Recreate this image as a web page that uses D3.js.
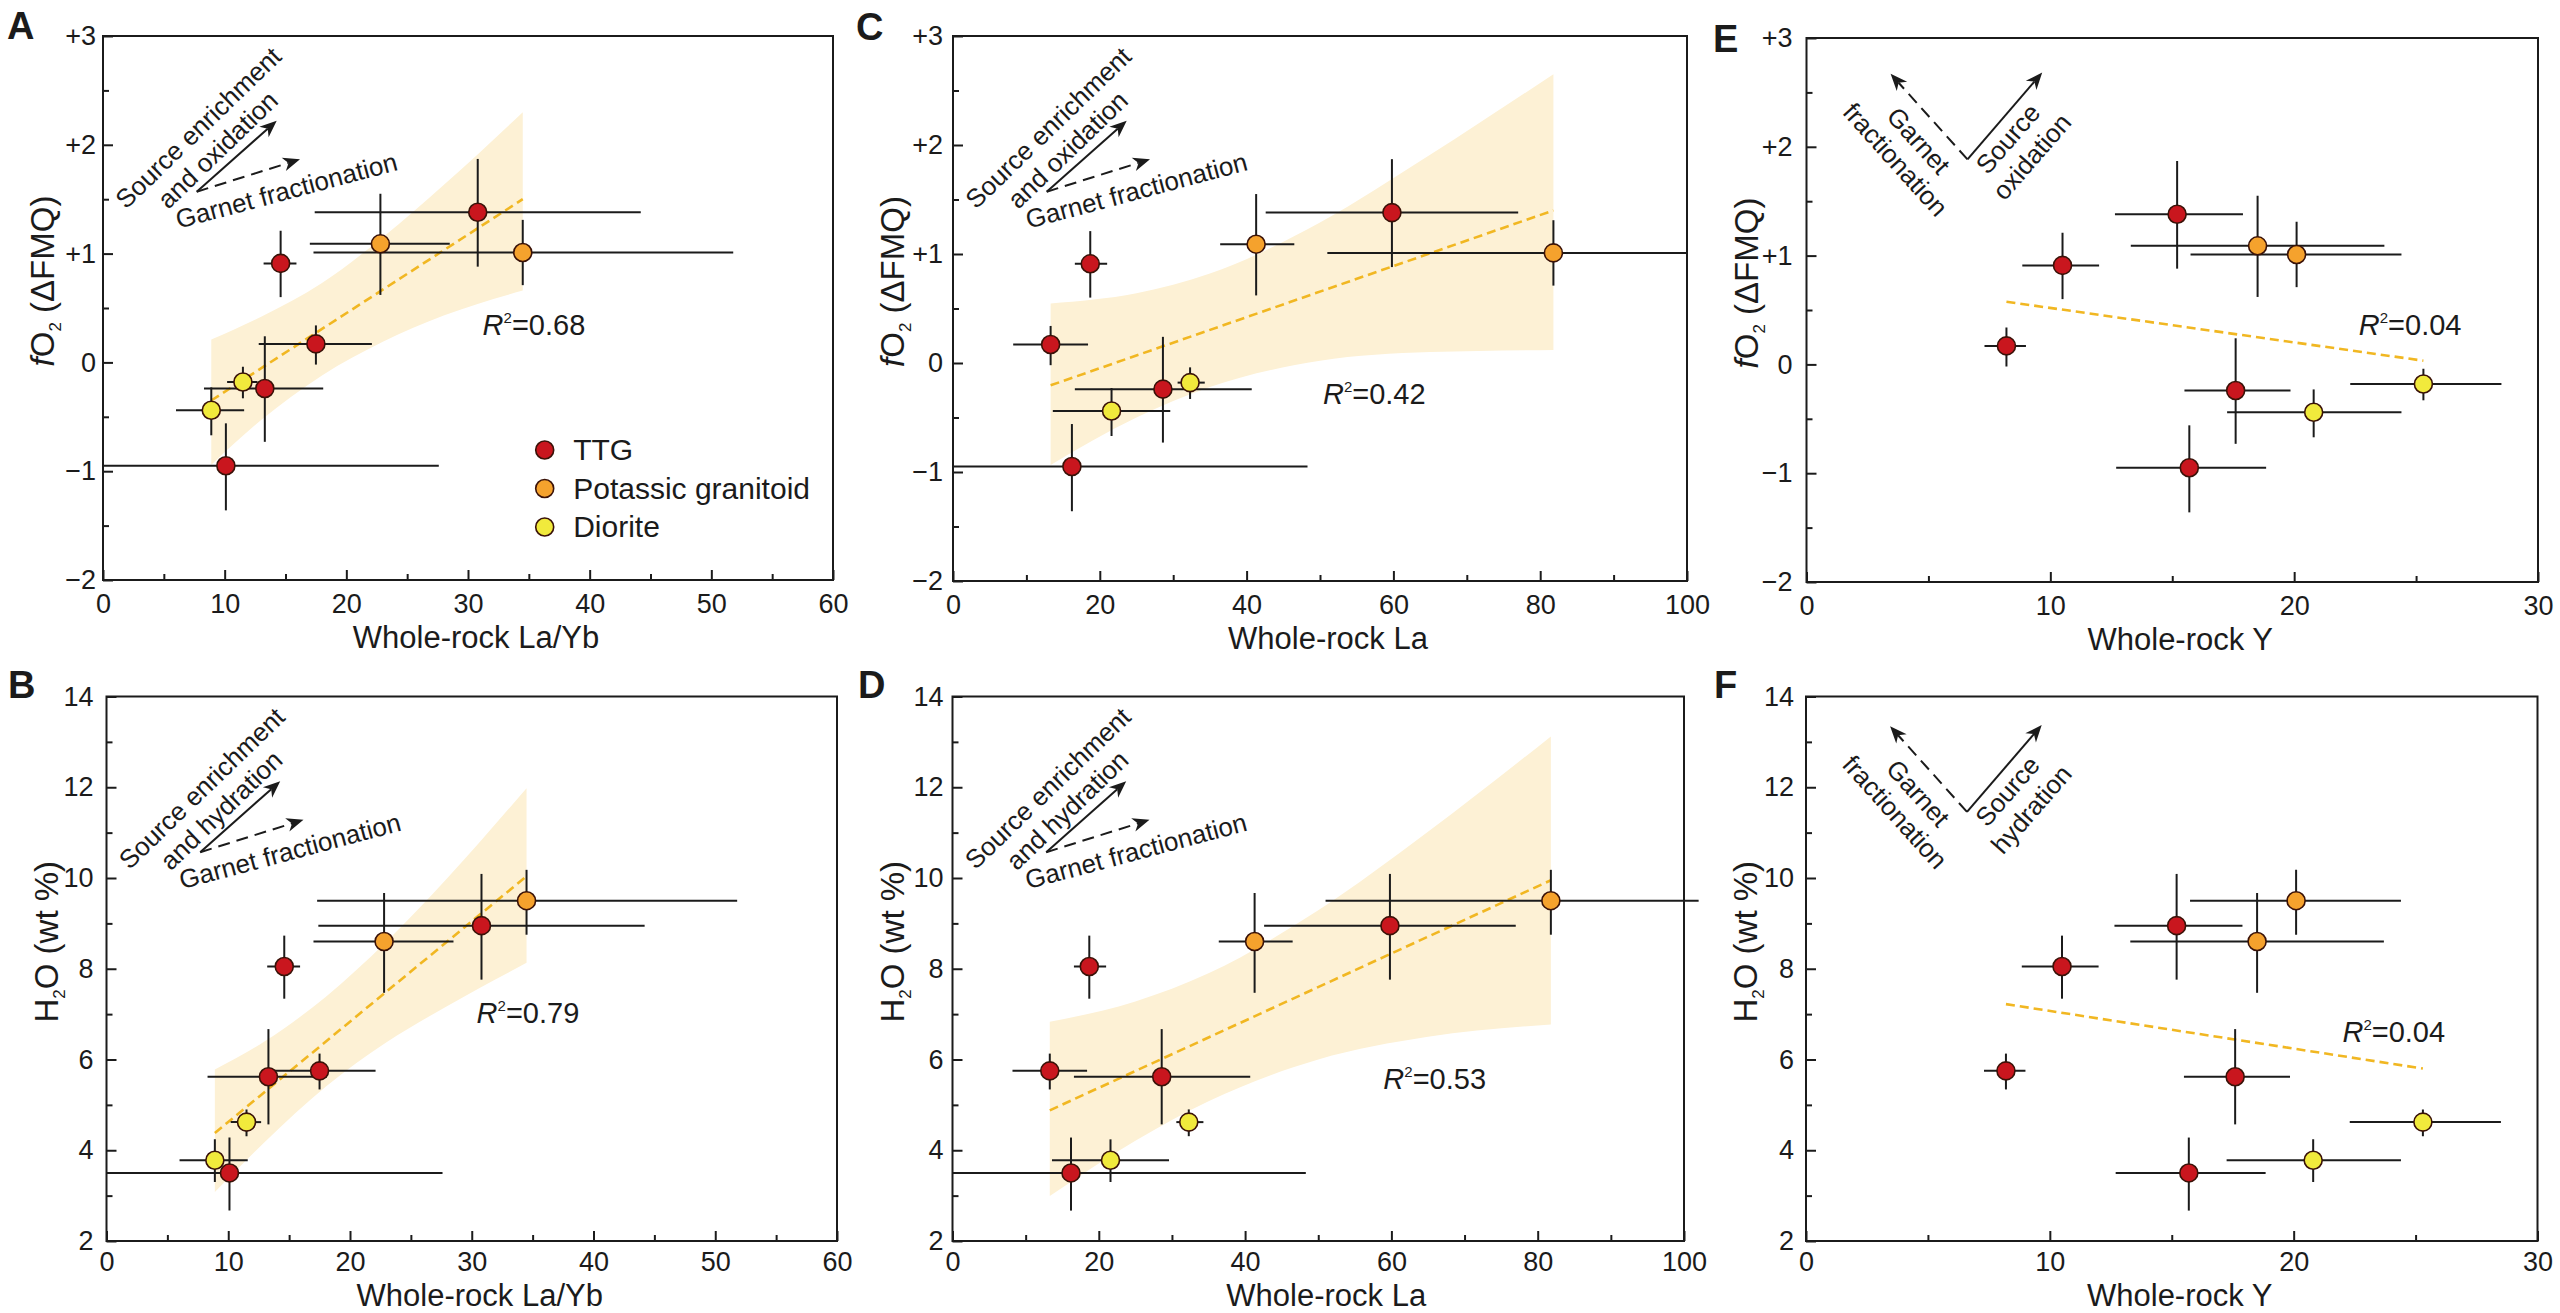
<!DOCTYPE html>
<html>
<head>
<meta charset="utf-8">
<script src="https://cdn.jsdelivr.net/npm/d3@7"></script>
<style>
  body { margin: 0; background: #fff; }
  text { font-family: "Liberation Sans", Arial, Helvetica, sans-serif; fill: #1b1b1b; }
  .tick text { font-size: 27px; }
</style>
</head>
<body>
<svg id="chart" width="2560" height="1313"></svg>
<script>
/* Samples, one entry per pluton (same order in every array) */
var rockType = ["TTG", "Potassic granitoid", "Potassic granitoid", "TTG", "TTG", "Diorite", "TTG", "Diorite", "TTG"];

var laYb   = [30.8, 22.8, 34.5, 14.6, 17.5, 11.5, 13.3, 8.9, 10.1];
var laYbLo = [17.4, 17.0, 17.3, 13.2, 12.8, 10.2, 8.3, 6.0, 0];
var laYbHi = [44.2, 28.5, 51.8, 15.9, 22.1, 12.7, 18.1, 11.6, 27.6];

var la   = [59.8, 41.3, 81.8, 18.7, 13.3, 32.3, 28.6, 21.6, 16.2];
var laLo = [42.6, 36.4, 51.0, 16.6, 8.2, 30.6, 16.6, 13.6, 0];
var laHi = [77.0, 46.5, 102, 21.0, 18.4, 34.3, 40.7, 29.6, 48.3];

var yy   = [15.2, 18.5, 20.1, 10.5, 8.2, 25.3, 17.6, 20.8, 15.7];
var yyLo = [12.65, 13.3, 15.75, 8.85, 7.3, 22.3, 15.5, 17.25, 12.7];
var yyHi = [17.9, 23.7, 24.4, 12.0, 9.0, 28.5, 19.85, 24.4, 18.85];

var fo2   = [1.38, 1.09, 1.01, 0.91, 0.17, -0.18, -0.24, -0.44, -0.95];
var fo2Lo = [0.88, 0.62, 0.71, 0.60, -0.02, -0.33, -0.73, -0.67, -1.36];
var fo2Hi = [1.87, 1.55, 1.31, 1.21, 0.34, -0.04, 0.24, -0.23, -0.56];

var h2o   = [8.95, 8.6, 9.5, 8.05, 5.75, 4.62, 5.62, 3.78, 3.5];
var h2oLo = [7.76, 7.47, 8.75, 7.34, 5.34, 4.31, 4.57, 3.30, 2.67];
var h2oHi = [10.09, 9.67, 10.18, 8.73, 6.13, 4.90, 6.67, 4.24, 4.28];

var categories = ["TTG", "Potassic granitoid", "Diorite"];

/* Regression lines [x, y] and confidence bands [x, lower, upper] */
var trendA = [[8.9, -0.35], [34.5, 1.50]];
var bandA  = [[8.9, -0.94, 0.21], [13, -0.53, 0.42], [18, -0.12, 0.73], [23, 0.19, 1.15], [28, 0.43, 1.63], [34.5, 0.66, 2.30]];
var trendB = [[8.9, 4.38], [34.5, 10.04]];
var bandB  = [[8.9, 3.08, 5.78], [13, 4.18, 6.40], [18, 5.40, 7.38], [23, 6.38, 8.60], [28, 7.18, 10.0], [34.5, 8.13, 11.98]];
var trendC = [[13.3, -0.205], [81.8, 1.40]];
var bandC  = [[13.3, -0.935, 0.547], [25, -0.50, 0.64], [35, -0.22, 0.82], [50, 0.02, 1.29], [65, 0.10, 1.91], [81.8, 0.12, 2.65]];
var trendD = [[13.3, 4.88], [81.8, 9.95]];
var bandD  = [[13.3, 2.99, 6.83], [25, 4.21, 7.28], [35, 5.08, 7.90], [50, 6.0, 9.29], [65, 6.5, 11.02], [81.8, 6.77, 13.12]];
var trendE = [[8.2, 0.576], [25.3, 0.034]];
var trendF = [[8.2, 7.22], [25.3, 5.80]];

var r2Values = ["0.68", "0.79", "0.42", "0.53", "0.04", "0.04"];

/* Axis ticks */
var xMajorLaYb = [0, 10, 20, 30, 40, 50, 60], xMinorLaYb = [5, 15, 25, 35, 45, 55];
var xMajorLa = [0, 20, 40, 60, 80, 100], xMinorLa = [10, 30, 50, 70, 90];
var xMajorY = [0, 10, 20, 30], xMinorY = [5, 15, 25];
var yMajorFo2 = [-2, -1, 0, 1, 2, 3], yMinorFo2 = [-1.5, -0.5, 0.5, 1.5, 2.5];
var yMajorH2o = [2, 4, 6, 8, 10, 12, 14], yMinorH2o = [3, 5, 7, 9, 11, 13];

var COLORS = {"TTG": "#c9161e", "Potassic granitoid": "#f5a22d", "Diorite": "#f1ea3c"};
var BAND_COLOR = "#fdf1d5";
var TREND_COLOR = "#f1b722";
var INK = "#1b1b1b";

var X_VARS = {
    laYb: {v: laYb, lo: laYbLo, hi: laYbHi, domain: [0, 60], major: xMajorLaYb, minor: xMinorLaYb, title: "Whole-rock La/Yb"},
    la:   {v: la, lo: laLo, hi: laHi, domain: [0, 100], major: xMajorLa, minor: xMinorLa, title: "Whole-rock La"},
    y:    {v: yy, lo: yyLo, hi: yyHi, domain: [0, 30], major: xMajorY, minor: xMinorY, title: "Whole-rock Y"}
};
var Y_VARS = {
    fo2: {v: fo2, lo: fo2Lo, hi: fo2Hi, domain: [-2, 3], major: yMajorFo2, minor: yMinorFo2,
          fmt: function(d) { return d > 0 ? "+" + d : (d < 0 ? "\u2212" + (-d) : "0"); },
          title: [{t: "f", italic: true}, {t: "O"}, {t: "2", sub: true}, {t: " (\u0394FMQ)"}]},
    h2o: {v: h2o, lo: h2oLo, hi: h2oHi, domain: [2, 14], major: yMajorH2o, minor: yMinorH2o,
          fmt: function(d) { return String(d); },
          title: [{t: "H"}, {t: "2", sub: true}, {t: "O (wt %)"}]}
};

var panels = [
    {id: "A", left: 103, right: 833, top: 36, bottom: 580, xVar: "laYb", yVar: "fo2", trend: trendA, band: bandA,
     r2: 0, r2At: [31.2, 0.25], letter: [7, 39], pad: 7, clip: true, note: "oxidation", legend: true},
    {id: "B", left: 106.5, right: 837, top: 696.5, bottom: 1241, xVar: "laYb", yVar: "h2o", trend: trendB, band: bandB,
     r2: 1, r2At: [30.4, 6.81], letter: [8, 698], pad: 13, clip: true, note: "hydration"},
    {id: "C", left: 953, right: 1687, top: 36, bottom: 581, xVar: "la", yVar: "fo2", trend: trendC, band: bandC,
     r2: 2, r2At: [50.4, -0.38], letter: [856, 40], pad: 10, clip: true, note: "oxidation"},
    {id: "D", left: 952.5, right: 1684, top: 696.5, bottom: 1241, xVar: "la", yVar: "h2o", trend: trendD, band: bandD,
     r2: 3, r2At: [58.9, 5.36], letter: [858, 698], pad: 9, clip: false, note: "hydration"},
    {id: "E", left: 1806.5, right: 2538, top: 38, bottom: 582, xVar: "y", yVar: "fo2", trend: trendE,
     r2: 4, r2At: [22.65, 0.27], letter: [1713, 52], pad: 14, clip: true, vnote: "oxidation", vdy: 0},
    {id: "F", left: 1806, right: 2537.5, top: 696.5, bottom: 1241, xVar: "y", yVar: "h2o", trend: trendF,
     r2: 5, r2At: [22.0, 6.39], letter: [1714, 698], pad: 12, clip: true, vnote: "hydration", vdy: -6}
];

var svg = d3.select("#chart");
var defs = svg.append("defs");

panels.forEach(fig_drawPanel);

function fig_drawPanel(p) {
    var xv = X_VARS[p.xVar], yv = Y_VARS[p.yVar];
    var x = d3.scaleLinear().domain(xv.domain).range([p.left, p.right]);
    var y = d3.scaleLinear().domain(yv.domain).range([p.bottom, p.top]);
    var g = svg.append("g").attr("class", "panel panel-" + p.id);

    defs.append("clipPath").attr("id", "clip-" + p.id)
        .append("rect")
        .attr("x", p.left).attr("y", p.top)
        .attr("width", p.right - p.left).attr("height", p.bottom - p.top);

    var plot = g.append("g");
    if (p.clip) plot.attr("clip-path", "url(#clip-" + p.id + ")");

    // confidence band + regression line
    if (p.band) {
        plot.append("path")
            .datum(p.band)
            .attr("d", d3.area()
                .x(function(d) { return x(d[0]); })
                .y0(function(d) { return y(d[1]); })
                .y1(function(d) { return y(d[2]); })
                .curve(d3.curveMonotoneX))
            .attr("fill", BAND_COLOR);
    }
    plot.append("path")
        .datum(p.trend)
        .attr("d", d3.line()
            .x(function(d) { return x(d[0]); })
            .y(function(d) { return y(d[1]); }))
        .attr("fill", "none")
        .attr("stroke", TREND_COLOR)
        .attr("stroke-width", 2.6)
        .attr("stroke-dasharray", "9,5");

    var idx = d3.range(rockType.length);

    // error bars
    plot.selectAll(".xerr").data(idx).join("line")
        .attr("class", "xerr")
        .attr("x1", function(i) { return x(xv.lo[i]); })
        .attr("x2", function(i) { return x(xv.hi[i]); })
        .attr("y1", function(i) { return y(yv.v[i]); })
        .attr("y2", function(i) { return y(yv.v[i]); })
        .attr("stroke", INK).attr("stroke-width", 2);
    plot.selectAll(".yerr").data(idx).join("line")
        .attr("class", "yerr")
        .attr("x1", function(i) { return x(xv.v[i]); })
        .attr("x2", function(i) { return x(xv.v[i]); })
        .attr("y1", function(i) { return y(yv.lo[i]); })
        .attr("y2", function(i) { return y(yv.hi[i]); })
        .attr("stroke", INK).attr("stroke-width", 2);

    // samples
    plot.selectAll(".pt").data(idx).join("circle")
        .attr("class", "pt")
        .attr("cx", function(i) { return x(xv.v[i]); })
        .attr("cy", function(i) { return y(yv.v[i]); })
        .attr("r", 9)
        .attr("fill", function(i) { return COLORS[rockType[i]]; })
        .attr("stroke", "#3a1208")
        .attr("stroke-width", 1.6);

    fig_drawAxes(g, p, x, y, xv, yv);

    // R^2
    var r2 = g.append("text")
        .attr("x", x(p.r2At[0]))
        .attr("y", y(p.r2At[1]))
        .attr("font-size", 29);
    r2.append("tspan").attr("font-style", "italic").text("R");
    r2.append("tspan").attr("font-size", 15).attr("dy", -12).text("2");
    r2.append("tspan").attr("dy", 12).text("=" + r2Values[p.r2]);

    // panel letter
    g.append("text")
        .attr("x", p.letter[0]).attr("y", p.letter[1])
        .attr("font-size", 38).attr("font-weight", "bold")
        .text(p.id);

    if (p.note) fig_noteSlanted(g, p);
    if (p.vnote) fig_noteV(g, p);
    if (p.legend) fig_legend(g, p);
}

function fig_drawAxes(g, p, x, y, xv, yv) {
    var rowTop = p.top < 300;
    var xa = g.append("g")
        .attr("transform", "translate(0," + p.bottom + ")")
        .style("color", INK)
        .call(d3.axisBottom(x).tickValues(xv.major).tickSize(-10).tickPadding(rowTop ? 14 : 11).tickFormat(d3.format("d")));
    var xm = g.append("g")
        .attr("transform", "translate(0," + p.bottom + ")")
        .style("color", INK)
        .call(d3.axisBottom(x).tickValues(xv.minor).tickSize(-6).tickFormat(function() { return ""; }));
    var ya = g.append("g")
        .attr("transform", "translate(" + p.left + ",0)")
        .style("color", INK)
        .call(d3.axisLeft(y).tickValues(yv.major).tickSize(-10).tickPadding(p.pad).tickFormat(yv.fmt));
    var ym = g.append("g")
        .attr("transform", "translate(" + p.left + ",0)")
        .style("color", INK)
        .call(d3.axisLeft(y).tickValues(yv.minor).tickSize(-6).tickFormat(function() { return ""; }));
    [xa, xm, ya, ym].forEach(function(a) {
        a.select(".domain").remove();
        a.selectAll(".tick line").attr("stroke-width", 2);
    });

    // frame
    g.append("rect")
        .attr("x", p.left).attr("y", p.top)
        .attr("width", p.right - p.left).attr("height", p.bottom - p.top)
        .attr("fill", "none").attr("stroke", INK).attr("stroke-width", 2);

    // titles
    g.append("text")
        .attr("x", (p.left + p.right) / 2 + 8)
        .attr("y", p.bottom + (rowTop ? 68 : 64.5))
        .attr("text-anchor", "middle")
        .attr("font-size", 31)
        .text(xv.title);

    var yt = g.append("text")
        .attr("transform", "translate(" + (p.left - 49) + "," + ((p.top + p.bottom) / 2 - 27) + ") rotate(-90)")
        .attr("text-anchor", "middle")
        .attr("font-size", 33);
    var shift = 0;
    yv.title.forEach(function(part) {
        var ts = yt.append("tspan").text(part.t);
        if (part.italic) ts.attr("font-style", "italic");
        if (part.sub) {
            ts.attr("font-size", 17).attr("dy", 7);
            shift = 7;
        } else if (shift) {
            ts.attr("dy", -shift);
            shift = 0;
        }
    });
}

function fig_arrow(g, x1, y1, x2, y2, dashed) {
    var a = Math.atan2(y2 - y1, x2 - x1);
    var c = Math.cos(a), s = Math.sin(a);
    var len = 17, half = 7, notch = 12;
    g.append("line")
        .attr("x1", x1).attr("y1", y1)
        .attr("x2", x2 - notch * c).attr("y2", y2 - notch * s)
        .attr("stroke", INK).attr("stroke-width", 2)
        .attr("stroke-dasharray", dashed ? "12,7" : null);
    var bx = x2 - len * c, by = y2 - len * s;
    g.append("path")
        .attr("d", "M" + x2 + "," + y2 +
            "L" + (bx - half * s) + "," + (by + half * c) +
            "L" + (x2 - notch * c) + "," + (y2 - notch * s) +
            "L" + (bx + half * s) + "," + (by - half * c) + "Z")
        .attr("fill", INK);
}

function fig_label(g, cx, cy, angle, txt) {
    g.append("text")
        .attr("transform", "translate(" + cx + "," + cy + ") rotate(" + angle + ")")
        .attr("text-anchor", "middle")
        .attr("font-size", 26)
        .text(txt);
}

// "Source enrichment and ..." / "Garnet fractionation" arrows (panels A-D)
function fig_noteSlanted(g, p) {
    var ox = p.left, oy = p.top;
    fig_arrow(g, ox + 93.7, oy + 155.7, ox + 173.7, oy + 84.7, false);
    fig_arrow(g, ox + 93.7, oy + 155.7, ox + 197, oy + 123.3, true);
    fig_label(g, ox + 101.5, oy + 98.2, -44, "Source enrichment");
    fig_label(g, ox + 121, oy + 120.2, -44, "and " + p.note);
    fig_label(g, ox + 185.7, oy + 163.3, -15, "Garnet fractionation");
}

// V-shaped arrows (panels E-F)
function fig_noteV(g, p) {
    var ox = p.left, oy = p.top + p.vdy;
    fig_arrow(g, ox + 161, oy + 121.4, ox + 84.1, oy + 35.8, true);
    fig_arrow(g, ox + 161, oy + 121.4, ox + 235.7, oy + 34.5, false);
    fig_label(g, ox + 105.3, oy + 108.7, 48, "Garnet");
    fig_label(g, ox + 82.3, oy + 127.7, 48, "fractionation");
    fig_label(g, ox + 208.2, oy + 106.6, -49, "Source");
    fig_label(g, ox + 232.2, oy + 124.6, -49, p.vnote);
}

function fig_legend(g, p) {
    var lg = g.append("g").attr("transform", "translate(" + (p.left + 441.7) + "," + (p.top + 414) + ")");
    var item = lg.selectAll(".item").data(categories).join("g")
        .attr("class", "item")
        .attr("transform", function(d, i) { return "translate(0," + (i * 38.5) + ")"; });
    item.append("circle")
        .attr("r", 9)
        .attr("fill", function(d) { return COLORS[d]; })
        .attr("stroke", "#3a1208")
        .attr("stroke-width", 1.6);
    item.append("text")
        .attr("x", 28.5).attr("y", 10)
        .attr("font-size", 30)
        .text(function(d) { return d; });
}
</script>
</body>
</html>
